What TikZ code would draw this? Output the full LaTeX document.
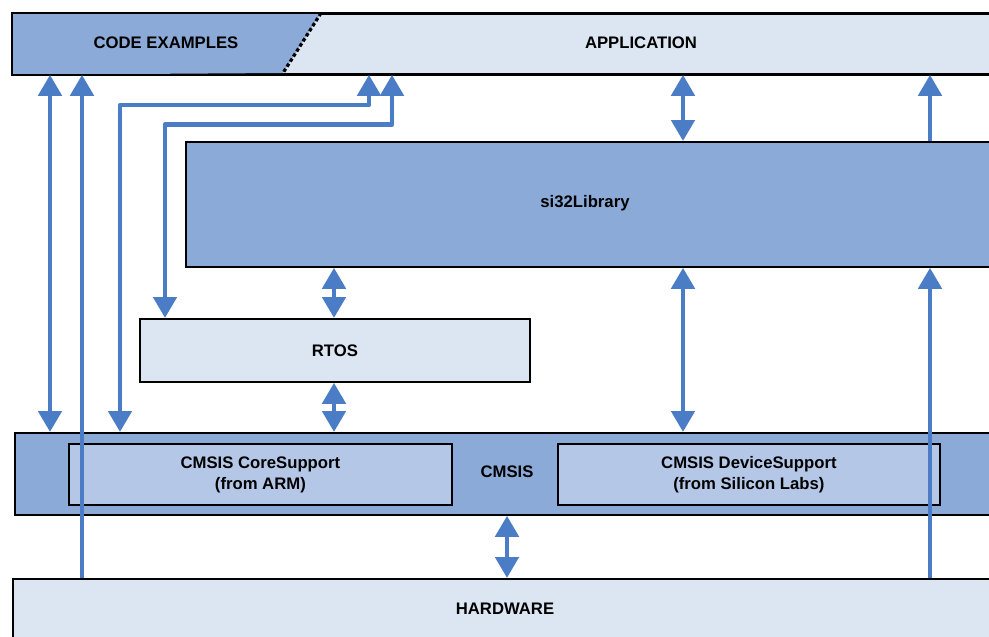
\documentclass[tikz,border=0pt]{standalone}
\usepackage{fontspec}
\setmainfont{Liberation Sans}
\usetikzlibrary{arrows.meta}
\definecolor{darkfill}{RGB}{139,170,216}
\definecolor{lightfill}{RGB}{220,230,242}
\definecolor{midfill}{RGB}{180,199,231}
\definecolor{arrowc}{RGB}{74,125,197}
\tikzset{
  boxbase/.style={draw=black, line width=1.8pt, inner sep=0pt, anchor=north west},
  darkbox/.style={boxbase, fill=darkfill},
  lightbox/.style={boxbase, fill=lightfill},
  midbox/.style={boxbase, fill=midfill},
  lbl/.style={font=\fontsize{16.7}{21}\selectfont\bfseries, align=center, inner sep=0pt},
  conn/.style={draw=arrowc, line width=4.8pt, line join=round},
  onearrow/.style={conn, -{Triangle[width=23pt,length=21pt]}},
  twoarrow/.style={conn, {Triangle[width=23pt,length=21pt]}-{Triangle[width=23pt,length=21pt]}},
}
\begin{document}
\begin{tikzpicture}[x=1pt,y=-1pt]
\useasboundingbox (0,0) rectangle (989,637);
\clip (0,0) rectangle (989,637);
% boxes
\node[lightbox, minimum width=1100pt, minimum height=60pt] (app) at (12,13) {};
\coordinate (ct) at (321,13);
\coordinate (cb) at (283,73);
\fill[darkfill] (app.north west) -- (ct) -- (cb) -- (app.south west) -- cycle;
\draw[line width=1.8pt] (app.north west) rectangle (app.south east);
\draw[line width=3.2pt, dash pattern=on 3.5pt off 2.5pt] (ct) -- (cb);
\node[lbl] (codeL) at (166,43) {CODE EXAMPLES};
\node[lbl] (appL) at (641,43) {APPLICATION};

\node[darkbox, minimum width=1000pt, minimum height=125pt] (si) at (185,141) {};
\node[lbl] (siL) at (585,203) {si32Library};

\node[lightbox, minimum width=390pt, minimum height=63pt] (rtos) at (139,318) {};
\node[lbl] at (rtos.center) {RTOS};

\node[darkbox, minimum width=1100pt, minimum height=82pt] (cmsis) at (14,432) {};
\node[midbox, minimum width=383pt, minimum height=61pt] (core) at (68,443) {};
\node[midbox, minimum width=382pt, minimum height=61pt] (dev) at (557,443) {};
\node[lbl] at (core.center) {CMSIS CoreSupport\\(from ARM)};
\node[lbl] at (dev.center) {CMSIS DeviceSupport\\(from Silicon Labs)};
\node[lbl] (cmsisL) at (507,472) {CMSIS};

\node[lightbox, minimum width=1100pt, minimum height=120pt] (hw) at (12,578) {};
\node[lbl] (hwL) at (505,609) {HARDWARE};

% connectors
\draw[twoarrow] (50,0 |- app.south) -- (50,0 |- cmsis.north);
\draw[onearrow] (82,0 |- hw.north) -- (82,0 |- app.south);
\draw[twoarrow] (369,0 |- app.south) -- (369,105) -- (120,105) -- (120,0 |- cmsis.north);
\draw[twoarrow] (392,0 |- app.south) -- (392,124.5) -- (165,124.5) -- (165,0 |- rtos.north);
\draw[twoarrow] (683,0 |- app.south) -- (683,0 |- si.north);
\draw[onearrow] (930,0 |- si.north) -- (930,0 |- app.south);
\draw[twoarrow] (334,0 |- si.south) -- (334,0 |- rtos.north);
\draw[twoarrow] (334,0 |- rtos.south) -- (334,0 |- cmsis.north);
\draw[twoarrow] (683,0 |- si.south) -- (683,0 |- cmsis.north);
\draw[onearrow] (930,0 |- hw.north) -- (930,0 |- si.south);
\draw[twoarrow] (507,0 |- cmsis.south) -- (507,0 |- hw.north);
\end{tikzpicture}
\end{document}
